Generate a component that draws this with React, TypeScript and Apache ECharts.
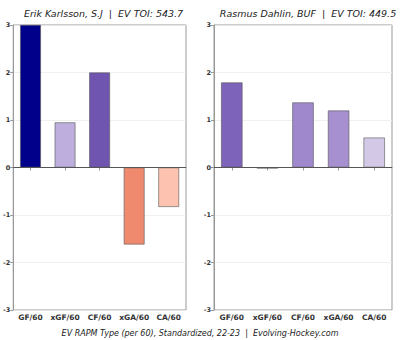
import React, { useEffect, useRef } from "react";
import * as echarts from "echarts";

const categories = ["GF/60", "xGF/60", "CF/60", "xGA/60", "CA/60"];
const leftTitle = "Erik Karlsson, S.J  |  EV TOI: 543.7";
const rightTitle = "Rasmus Dahlin, BUF  |  EV TOI: 449.5";
const caption = "EV RAPM Type (per 60), Standardized, 22-23  |  Evolving-Hockey.com";
const leftValues = [3.0, 0.95, 2.0, -1.62, -0.83];
const rightValues = [1.79, -0.02, 1.37, 1.2, 0.63];
const leftColors = ["#00008b", "#bdaedd", "#6f55b0", "#f08a6f", "#fdc3b0"];
const rightColors = ["#7e63ba", "#c8bfe0", "#9f88cc", "#a690d0", "#d3c9e7"];

const FONT = "DejaVu Sans";

export default function App() {
  const ref = useRef<HTMLDivElement>(null);
  useEffect(() => {
    const chart = echarts.init(ref.current!, null, { renderer: "svg" });
    const grids = [
      { left: 11, right: 214, top: 25, bottom: 30 },
      { left: 214, right: 8, top: 25, bottom: 30 },
    ].map((g) => ({ ...g, show: true, borderColor: "#999", borderWidth: 1, backgroundColor: "transparent" }));
    const xAxes = [0, 1].map((i) => ({
      type: "category",
      gridIndex: i,
      data: categories,
      axisLine: { lineStyle: { color: "#999", width: 1 } },
      axisTick: { show: true, alignWithLabel: true, length: 3, lineStyle: { color: "#999" } },
      axisLabel: { interval: 0, fontFamily: FONT, fontSize: 7.5, fontWeight: "bold", color: "#333", margin: 3 },
    }));
    const yAxes = [0, 1].map((i) => ({
      type: "value",
      gridIndex: i,
      min: -3,
      max: 3,
      interval: 1,
      axisLine: { show: true, lineStyle: { color: "#999", width: 1 } },
      axisTick: { show: true, length: 3, lineStyle: { color: "#999" } },
      axisLabel: { fontFamily: FONT, fontSize: 6.5, fontWeight: "bold", color: "#333", margin: 3 },
      splitLine: { show: true, lineStyle: { color: "#ececec", width: 0.8 } },
    }));
    const mkSeries = (i: number, vals: number[], cols: string[]) => ({
      type: "bar",
      xAxisIndex: i,
      yAxisIndex: i,
      barCategoryGap: "40%",
      data: vals.map((v, j) => ({
        value: v,
        itemStyle: { color: cols[j], borderColor: "#555", borderWidth: 0.6 },
      })),
      markLine: {
        silent: true,
        symbol: "none",
        label: { show: false },
        lineStyle: { color: "#555", width: 1, type: "solid" },
        data: [{ yAxis: 0 }],
      },
    });
    chart.setOption({
      animation: false,
      backgroundColor: "#fff",
      grid: grids,
      xAxis: xAxes,
      yAxis: yAxes,
      title: [
        { text: leftTitle, left: 98.5, top: 3, textAlign: "center", textStyle: { fontFamily: FONT, fontSize: 9.5, fontStyle: "italic", fontWeight: "normal", color: "#222" } },
        { text: rightTitle, left: 303, top: 3, textAlign: "center", textStyle: { fontFamily: FONT, fontSize: 9.5, fontStyle: "italic", fontWeight: "normal", color: "#222" } },
        { text: caption, left: 195, top: 324, textAlign: "center", textStyle: { fontFamily: FONT, fontSize: 8, fontStyle: "italic", fontWeight: "normal", color: "#222" } },
      ],
      series: [mkSeries(0, leftValues, leftColors), mkSeries(1, rightValues, rightColors)],
    });
    return () => chart.dispose();
  }, []);
  return <div ref={ref} style={{ position: "fixed", left: 0, top: 0, width: 400, height: 340 }} />;
}
